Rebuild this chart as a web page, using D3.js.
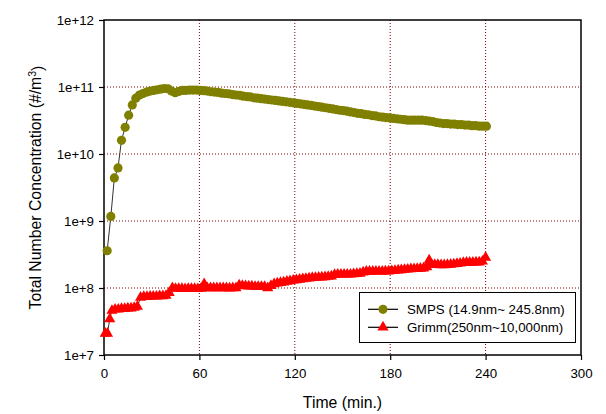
<!DOCTYPE html>
<html>
<head>
<meta charset="utf-8">
<script src="https://cdn.jsdelivr.net/npm/d3@7"></script>
<style>
  html, body { margin: 0; padding: 0; background: #fff; }
  svg { display: block; font-family: "Liberation Sans", Arial, sans-serif; }
</style>
</head>
<body>
<svg id="chart" width="606" height="414"></svg>
<script>
// ---- data ----
const smpsTime = [2, 4.3, 6.5, 8.8, 11, 13.3, 15.5, 17.8, 20, 22.3, 24.5, 26.8, 29, 31.3, 33.5, 35.8, 38, 40.3, 42.5, 44.8,
  47, 49.3, 51.5, 53.8, 56, 58.3, 60.5, 62.8, 65, 67.3, 69.5, 71.8, 74, 76.3, 78.5, 80.8, 83, 85.3, 87.5, 89.8,
  92, 94.3, 96.5, 98.8, 101, 103.3, 105.5, 107.8, 110, 112.3, 114.5, 116.8, 119, 121.3, 123.5, 125.8, 128, 130.3, 132.5, 134.8,
  137, 139.3, 141.5, 143.8, 146, 148.3, 150.5, 152.8, 155, 157.3, 159.5, 161.8, 164, 166.3, 168.5, 170.8, 173, 175.3, 177.5, 179.8,
  182, 184.3, 186.5, 188.8, 191, 193.3, 195.5, 197.8, 200, 202.3, 204.5, 206.8, 209, 211.3, 213.5, 215.8, 218, 220.3, 222.5, 224.8,
  227, 229.3, 231.5, 233.8, 236, 238.3, 240.5];
const smpsValue = [3.6e8, 1.17e9, 4.4e9, 6.2e9, 1.6e10, 2.5e10, 3.8e10, 5.4e10, 6.8e10, 7.6e10, 8.0e10, 8.4e10, 8.7e10, 8.9e10, 9.1e10, 9.3e10, 9.5e10, 9.4e10, 8.7e10, 8.2e10,
  8.6e10, 8.9e10, 8.9e10, 9.0e10, 9.0e10, 9.0e10, 8.9e10, 8.8e10, 8.7e10, 8.5e10, 8.4e10, 8.3e10, 8.1e10, 8.0e10, 7.9e10, 7.7e10, 7.6e10, 7.5e10, 7.3e10, 7.2e10,
  7.1e10, 6.9e10, 6.8e10, 6.7e10, 6.6e10, 6.5e10, 6.4e10, 6.3e10, 6.2e10, 6.1e10, 6.0e10, 5.9e10, 5.8e10, 5.7e10, 5.6e10, 5.5e10, 5.4e10, 5.3e10, 5.2e10, 5.1e10,
  5.0e10, 4.9e10, 4.8e10, 4.7e10, 4.6e10, 4.5e10, 4.45e10, 4.35e10, 4.25e10, 4.15e10, 4.05e10, 4.0e10, 3.9e10, 3.85e10, 3.75e10, 3.7e10, 3.6e10, 3.55e10, 3.5e10, 3.45e10,
  3.4e10, 3.35e10, 3.3e10, 3.25e10, 3.2e10, 3.2e10, 3.2e10, 3.2e10, 3.2e10, 3.15e10, 3.1e10, 3.05e10, 2.95e10, 2.9e10, 2.85e10, 2.85e10, 2.8e10, 2.8e10, 2.75e10, 2.75e10,
  2.7e10, 2.7e10, 2.65e10, 2.65e10, 2.6e10, 2.6e10, 2.6e10];

const grimmTime = [0.8, 2.2, 3.6, 5, 7, 9, 11, 13, 15, 17, 19, 21, 23, 25, 27, 29, 31, 33, 35, 37, 39, 41, 43, 45, 47, 49,
  51, 53, 55, 57, 59, 61, 63, 65, 67, 69, 71, 73, 75, 77, 79, 81, 83, 85, 87, 89, 91, 93, 95, 97, 99,
  101, 103, 105, 107, 109, 111, 113, 115, 117, 119, 121, 123, 125, 127, 129, 131, 133, 135, 137, 139, 141, 143, 145, 147, 149,
  151, 153, 155, 157, 159, 161, 163, 165, 167, 169, 171, 173, 175, 177, 179, 181, 183, 185, 187, 189, 191, 193, 195, 197, 199,
  201, 203, 204.5, 206, 208, 210, 212, 214, 216, 218, 220, 222, 224, 226, 228, 230, 232, 234, 236, 238, 240];
const grimmValue = [2.1e7, 2.1e7, 3.45e7, 4.6e7, 4.8e7, 4.8e7, 4.9e7, 4.9e7, 5.0e7, 5.0e7, 5.1e7, 5.3e7, 7.2e7, 7.4e7, 7.4e7, 7.5e7, 7.5e7, 7.5e7, 7.6e7, 7.6e7, 7.7e7, 8.5e7, 1.0e8, 9.8e7, 9.8e7, 9.8e7,
  9.7e7, 9.8e7, 9.8e7, 9.8e7, 9.7e7, 9.8e7, 1.15e8, 1.0e8, 1.0e8, 1.0e8, 1.0e8, 1.0e8, 1.0e8, 1.0e8, 9.9e7, 1.0e8, 1.0e8, 1.1e8, 1.08e8, 1.07e8, 1.06e8, 1.06e8, 1.05e8, 1.05e8, 1.05e8,
  1.05e8, 1.0e8, 1.08e8, 1.15e8, 1.18e8, 1.2e8, 1.22e8, 1.25e8, 1.27e8, 1.3e8, 1.32e8, 1.34e8, 1.36e8, 1.38e8, 1.4e8, 1.42e8, 1.43e8, 1.44e8, 1.45e8, 1.46e8, 1.48e8, 1.5e8, 1.58e8, 1.6e8, 1.6e8,
  1.6e8, 1.6e8, 1.6e8, 1.62e8, 1.63e8, 1.65e8, 1.72e8, 1.76e8, 1.76e8, 1.76e8, 1.77e8, 1.77e8, 1.77e8, 1.78e8, 1.78e8, 1.8e8, 1.82e8, 1.84e8, 1.86e8, 1.88e8, 1.9e8, 1.92e8, 1.93e8, 1.94e8, 1.95e8,
  1.97e8, 2.05e8, 2.6e8, 2.25e8, 2.22e8, 2.22e8, 2.2e8, 2.2e8, 2.22e8, 2.25e8, 2.27e8, 2.3e8, 2.33e8, 2.38e8, 2.4e8, 2.4e8, 2.4e8, 2.42e8, 2.42e8, 2.5e8, 2.85e8];

const xTicks = [0, 60, 120, 180, 240, 300];
const yTicks = [1e7, 1e8, 1e9, 1e10, 1e11, 1e12];
const yTickLabels = ["1e+7", "1e+8", "1e+9", "1e+10", "1e+11", "1e+12"];
const seriesNames = ["SMPS (14.9nm~ 245.8nm)", "Grimm(250nm~10,000nm)"];
const xTitle = "Time (min.)";

// ---- layout ----
const L = 104, R = 581, T = 20, B = 355;
const svg = d3.select("#chart");
const x = d3.scaleLinear().domain([0, 300]).range([L, R]);
const y = d3.scaleLog().domain([1e7, 1e12]).range([B, T]);

const olive = "#808000", red = "#ff0000", gridCol = "#800000";
const fontSize = 13.3;

// gridlines
const grid = svg.append("g");
grid.selectAll("line.vx").data(xTicks.slice(1, -1)).join("line")
  .attr("x1", d => x(d)).attr("x2", d => x(d)).attr("y1", T).attr("y2", B)
  .attr("stroke", gridCol).attr("stroke-width", 1).attr("stroke-dasharray", "1,2");
grid.selectAll("line.hy").data(yTicks.slice(1, -1)).join("line")
  .attr("x1", L).attr("x2", R).attr("y1", d => y(d)).attr("y2", d => y(d))
  .attr("stroke", gridCol).attr("stroke-width", 1).attr("stroke-dasharray", "1,2");

// axes
const xAxis = d3.axisBottom(x).tickValues(xTicks).tickSize(5).tickSizeOuter(0).tickPadding(9).tickFormat(d3.format("d"));
const gx = svg.append("g").attr("transform", `translate(0,${B})`).call(xAxis);
const yAxis = d3.axisLeft(y).tickValues(yTicks).tickSize(5).tickSizeOuter(0).tickPadding(5)
  .tickFormat((d, i) => yTickLabels[i]);
const gy = svg.append("g").attr("transform", `translate(${L},0)`).call(yAxis);
[gx, gy].forEach(g => {
  g.select(".domain").remove();
  g.selectAll(".tick line").attr("stroke", "#000").attr("stroke-width", 1.2);
  g.selectAll(".tick text").attr("fill", "#000").style("font-size", fontSize + "px")
    .style("font-family", "'Liberation Sans', Arial, sans-serif");
});

// frame
svg.append("rect").attr("x", L).attr("y", T).attr("width", R - L).attr("height", B - T)
  .attr("fill", "none").attr("stroke", "#000").attr("stroke-width", 1.5);

// series
const smps = smpsTime.map((t, i) => [t, smpsValue[i]]);
const grimm = grimmTime.map((t, i) => [t, grimmValue[i]]);
const line = d3.line().x(d => x(d[0])).y(d => y(d[1]));

svg.append("path").datum(smps).attr("d", line).attr("fill", "none").attr("stroke", "#333").attr("stroke-width", 1);
svg.append("g").selectAll("circle").data(smps).join("circle")
  .attr("cx", d => x(d[0])).attr("cy", d => y(d[1])).attr("r", 4.6).attr("fill", olive);

const tri = d3.symbol().type(d3.symbolTriangle).size(54);
svg.append("path").datum(grimm).attr("d", line).attr("fill", "none").attr("stroke", "#333").attr("stroke-width", 1);
svg.append("g").selectAll("path").data(grimm).join("path")
  .attr("d", tri).attr("transform", d => `translate(${x(d[0])},${y(d[1])})`).attr("fill", red);

// legend
const lg = svg.append("g");
lg.append("rect").attr("x", 359.5).attr("y", 292.5).attr("width", 216).attr("height", 50)
  .attr("fill", "#fff").attr("stroke", "#000").attr("stroke-width", 1);
const rows = [309.3, 327.3];
seriesNames.forEach((name, i) => {
  const cy = rows[i];
  lg.append("line").attr("x1", 368).attr("x2", 398).attr("y1", cy).attr("y2", cy)
    .attr("stroke", "#000").attr("stroke-width", 1.2);
  if (i === 0) {
    lg.append("circle").attr("cx", 383).attr("cy", cy).attr("r", 4.6).attr("fill", olive);
  } else {
    lg.append("path").attr("d", tri).attr("transform", `translate(383,${cy})`).attr("fill", red);
  }
  lg.append("text").attr("x", 407).attr("y", cy).attr("dy", "0.35em")
    .style("font-size", fontSize + "px").attr("fill", "#000").text(name);
});

// axis titles
svg.append("text").attr("x", (L + R) / 2).attr("y", 408).attr("text-anchor", "middle")
  .style("font-size", "15.8px").attr("fill", "#000").text(xTitle);
const yt = svg.append("text").attr("transform", `translate(41,${(T + B) / 2}) rotate(-90)`)
  .attr("text-anchor", "middle").style("font-size", "15.8px").attr("fill", "#000");
yt.append("tspan").text("Total Number Concentration (#/m");
yt.append("tspan").attr("dy", "-0.45em").style("font-size", "10.5px").text("3");
yt.append("tspan").attr("dy", "0.45em").text(")");
</script>
</body>
</html>
